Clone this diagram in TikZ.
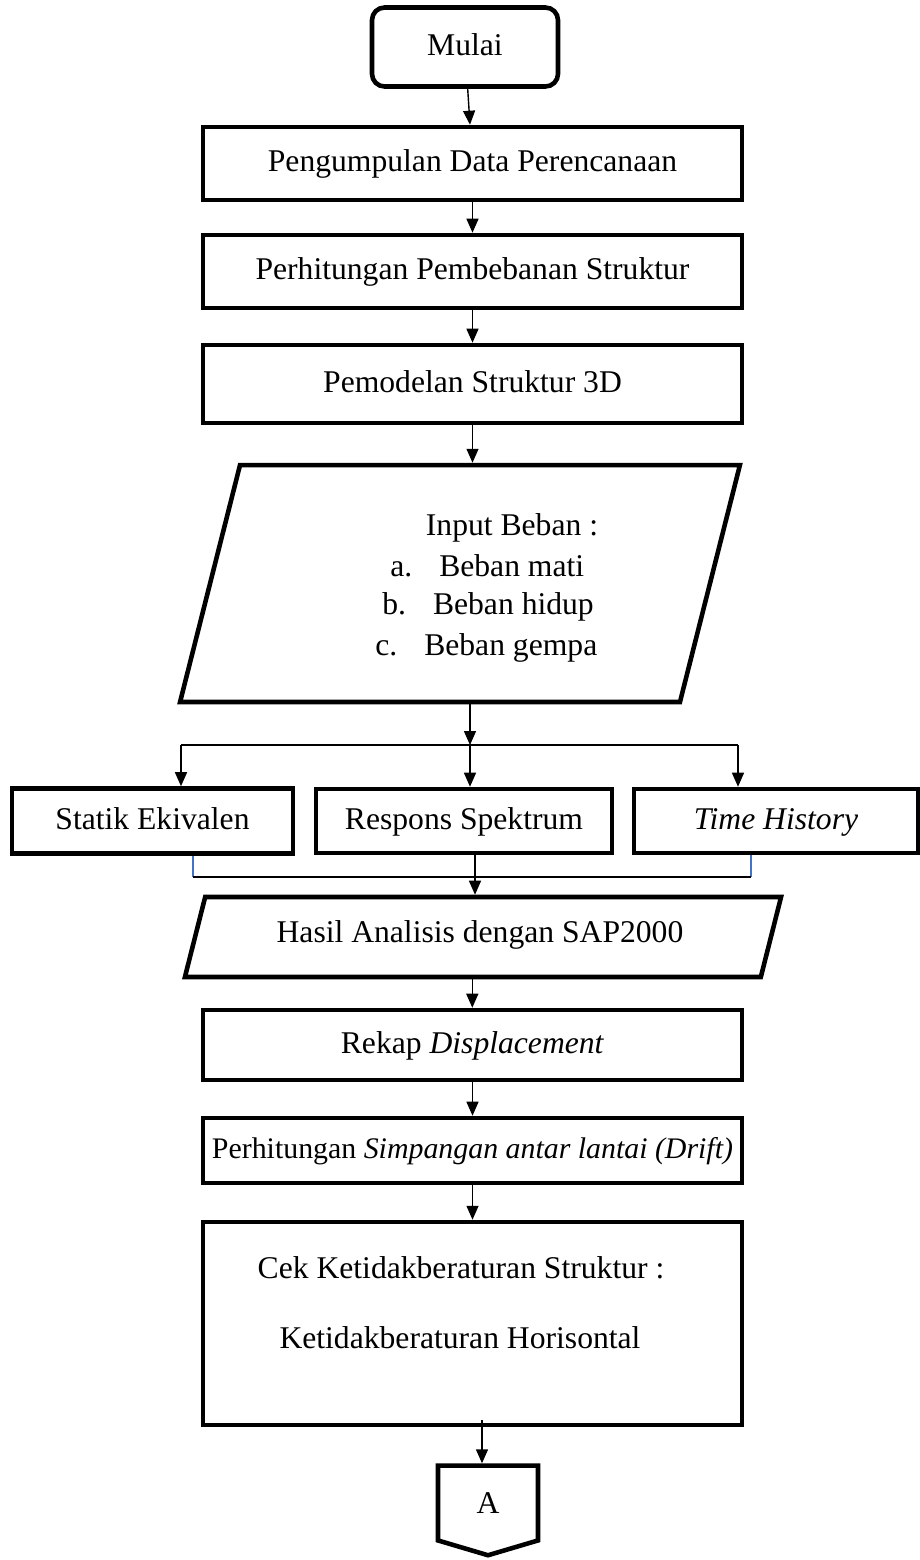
\documentclass[tikz,border=0pt]{standalone}
\usepackage{fontspec}
\setmainfont{Liberation Serif}
\usepackage{xcolor}
\usetikzlibrary{positioning}
\usetikzlibrary{shapes.geometric}
\usetikzlibrary{shapes.symbols}
\usetikzlibrary{arrows.meta}
\definecolor{linkblue}{HTML}{4472C4}

\begin{document}
\begin{tikzpicture}
  [ x=0.02cm, y=-0.02cm,
    every node/.style={font=\fontsize{18}{22}\selectfont},
    proc/.style={rectangle, draw=black, line width=2.6pt,
      minimum width=10.78cm, inner sep=1mm, text height=14pt, text depth=4.5pt},
    term/.style={rectangle, rounded corners=0.25cm, draw=black, line width=2.6pt,
      text height=14pt, text depth=4.5pt},
    io/.style={rectangle, xslant=0.253, transform shape, draw=black, line width=2.6pt},
    conn/.style={signal, signal to=south, signal pointer angle=147,
      draw=black, line width=2.6pt},
    txt/.style={inner sep=0pt},
    ar/.style={draw=black, line width=0.8pt, -{Triangle[length=0.28cm,width=0.24cm]}},
    ln/.style={draw=black, line width=0.8pt},
    bl/.style={draw=linkblue, line width=0.7pt}
  ]
  \useasboundingbox (0,0) rectangle (920,1560);

  \node (start) at (465,47)     [term, minimum width=3.72cm, minimum height=1.58cm] {Mulai};
  \node (data)  at (472.5,163.5) [proc, minimum height=1.46cm] {Pengumpulan Data Perencanaan};
  \node (load)  at (472.5,271.5) [proc, minimum height=1.46cm] {Perhitungan Pembebanan Struktur};
  \node (model) at (472.5,384)   [proc, minimum height=1.56cm] {Pemodelan Struktur 3D};

  % input beban
  \node (input) at (460,583.5) [io, minimum width=10cm, minimum height=4.74cm] {};
  \node (inTitle) at (512,528) [txt]              {Input Beban :};
  \node (inA)     at (390,566) [txt, anchor=west] {a.\hspace{0.54cm}Beban mati};
  \node (inB)     at (382,607) [txt, anchor=west] {b.\hspace{0.54cm}Beban hidup};
  \node (inC)     at (375,648) [txt, anchor=west] {c.\hspace{0.54cm}Beban gempa};

  \coordinate (busL) at (181,745);
  \coordinate (busC) at (470,745);
  \coordinate (busR) at (738,745);

  \node (statik)  at (152.5,821) [proc, minimum width=5.62cm, minimum height=1.3cm]  {Statik Ekivalen};
  \node (respons) at (464,821)   [proc, minimum width=5.92cm, minimum height=1.28cm] {Respons Spektrum};
  \node (thist)   at (776,821)   [proc, minimum width=5.68cm, minimum height=1.28cm] {\textit{Time History}};

  \coordinate (lowL) at (193,877);
  \coordinate (lowC) at (475,877);
  \coordinate (lowR) at (751,877);

  \node (hasil)  at (483,937) [io, minimum width=11.52cm, minimum height=1.6cm] {};
  \node (hasilT) at (480,935) [txt] {Hasil Analisis dengan SAP2000};
  \node (rekap) at (472.5,1045)  [proc, minimum height=1.4cm] {Rekap \textit{Displacement}};
  \node (drift) at (472.5,1150.5) [proc, minimum height=1.3cm, font=\fontsize{17}{20}\selectfont]
    {Perhitungan \textit{Simpangan antar lantai (Drift)}};

  % cek ketidakberaturan
  \node (cek)  at (472.5,1323.5) [proc, minimum height=4.06cm] {};
  \node (cekT) at (461,1268) [txt] {Cek Ketidakberaturan Struktur :};
  \node (cekH) at (460,1338) [txt] {Ketidakberaturan Horisontal};

  \node (conA) at (488,1503) [conn, minimum width=2cm, minimum height=1.6cm] {A};
  \coordinate (aIn) at (482,1420);

  \draw [ar] (start) -- (data);
  \draw [ar] (data) -- (load);
  \draw [ar] (load) -- (model);
  \draw [ar] (model.south) -- (model.south |- input.north);
  \draw [ar] (input.south -| busC) -- (busC);
  \draw [ln] (busL) -- (busR);
  \draw [ar] (busL) -- (busL |- statik.north);
  \draw [ar] (busC) -- (busC |- respons.north);
  \draw [ar] (busR) -- (busR |- thist.north);
  \draw [bl] (statik.south -| lowL) -- (lowL);
  \draw [bl] (thist.south -| lowR) -- (lowR);
  \draw [ln] (lowL) -- (lowR);
  \draw [ar] (respons.south -| lowC) -- (lowC |- hasil.north);
  \draw [ar] (hasil.south) -- (hasil.south |- rekap.north);
  \draw [ar] (rekap) -- (drift);
  \draw [ar] (drift) -- (cek);
  \draw [ar] (aIn) -- (aIn |- conA.north);
\end{tikzpicture}
\end{document}
